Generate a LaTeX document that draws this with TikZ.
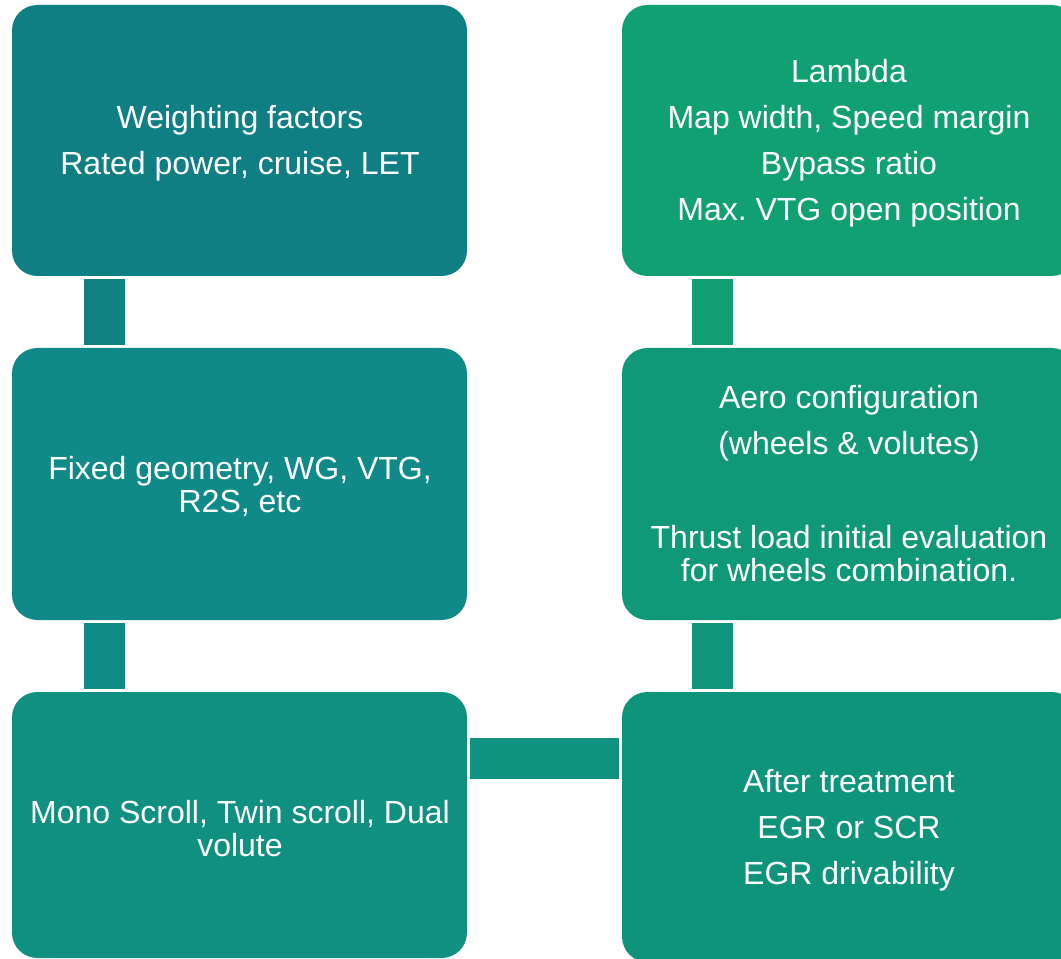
\documentclass[tikz,border=0pt]{standalone}
\usepackage{fontspec}
\setmainfont{Liberation Sans}
\frenchspacing
\definecolor{cTL}{RGB}{16,127,132}
\definecolor{cML}{RGB}{15,138,136}
\definecolor{cBL}{RGB}{15,144,128}
\definecolor{cTR}{RGB}{17,160,114}
\definecolor{cMR}{RGB}{16,153,120}
\definecolor{cBR}{RGB}{15,148,124}
\definecolor{kL1}{RGB}{16,130,132}
\definecolor{kL2}{RGB}{15,140,134}
\definecolor{kR1}{RGB}{17,158,115}
\definecolor{kR2}{RGB}{16,150,122}
\definecolor{kH}{RGB}{15,146,128}
\tikzset{
  card/.style={rounded corners=19pt, inner sep=0pt},
  cardtext/.style={text=white, align=center, font=\fontsize{24pt}{24.75pt}\selectfont},
  link/.style={inner sep=0pt}
}
\newcommand{\pgap}{\\[9.75pt]}
\begin{document}
\begin{tikzpicture}[x=0.75pt,y=-0.75pt]
\useasboundingbox (0,0) rectangle (1061,959);
\clip (0,0) rectangle (1061,959);
% boxes
\fill[cTL,card] (12,5) rectangle (467,276);
\fill[cML,card] (12,348) rectangle (467,620);
\fill[cBL,card] (12,692) rectangle (467,958);
\fill[cTR,card] (622,5) rectangle (1077,276);
\fill[cMR,card] (622,348) rectangle (1077,620);
\fill[cBR,card] (622,692) rectangle (1077,962);
% connectors
\fill[kL1] (84,279) rectangle (125,345);
\fill[kL2] (84,623) rectangle (125,689);
\fill[kR1] (692,279) rectangle (733,345);
\fill[kR2] (692,623) rectangle (733,689);
\fill[kH] (470,738) rectangle (619,779);
% texts
\node[cardtext] (tl) at (240,143.5) {Weighting factors\pgap Rated power, cruise, LET};
\node[cardtext] (ml) at (240,486) {Fixed geometry, WG, VTG,\\ R2S, etc};
\node[cardtext] (bl) at (240,828.5) {Mono Scroll, Twin scroll, Dual\\ volute};
\node[cardtext] (tr) at (849,143.5) {Lambda\pgap Map width, Speed margin\pgap Bypass ratio\pgap Max. VTG open position};
\node[cardtext] (mr) at (849,483.5) {Aero configuration\pgap (wheels \& volutes)\pgap \strut\pgap Thrust load initial evaluation\\ for wheels combination.};
\node[cardtext] (br) at (849,830.5) {After treatment\pgap EGR or SCR\pgap EGR drivability};
\end{tikzpicture}
\end{document}
